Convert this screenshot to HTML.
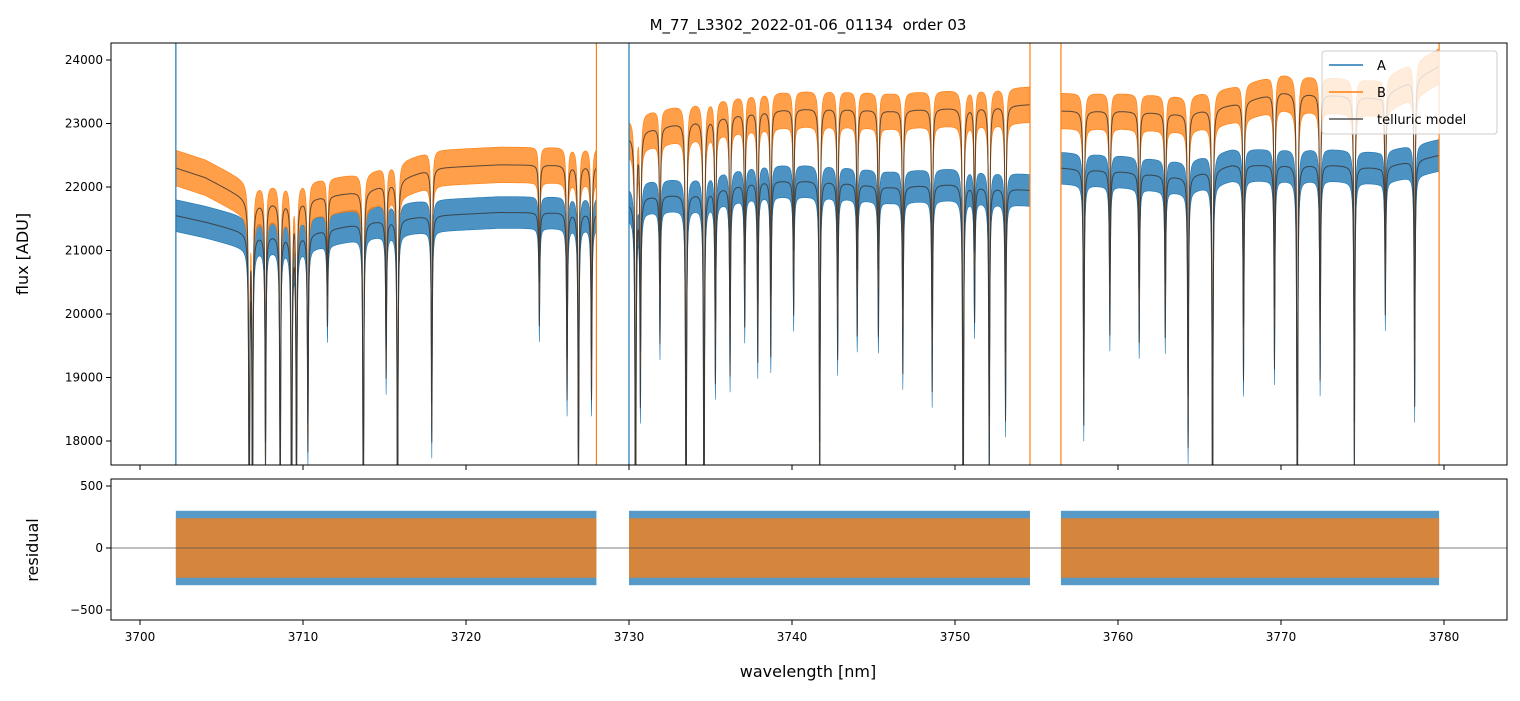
<!DOCTYPE html>
<html><head><meta charset="utf-8"><style>
body{margin:0;background:#fff;font-family:"Liberation Sans",sans-serif}
svg text{font-family:"DejaVu Sans","Liberation Sans",sans-serif}
</style></head><body>
<svg id="chart" width="1520" height="696" xmlns="http://www.w3.org/2000/svg">
<defs>
<clipPath id="c1"><rect x="111" y="43" width="1396" height="422"/></clipPath>
<clipPath id="c2"><rect x="111" y="479" width="1396" height="141"/></clipPath>
</defs>
<text x="808" y="30" text-anchor="middle" font-size="15" style="white-space:pre">M_77_L3302_2022-01-06_01134  order 03</text>
<g id="topg" clip-path="url(#c1)"></g>
<g id="botg" clip-path="url(#c2)"></g>
<g id="axes"></g>
<rect x="111" y="43" width="1396" height="422" fill="none" stroke="#000" stroke-width="1"/>
<rect x="111" y="479" width="1396" height="141" fill="none" stroke="#000" stroke-width="1"/>
<text x="808" y="677" text-anchor="middle" font-size="16">wavelength [nm]</text>
<text transform="translate(28,254) rotate(-90)" text-anchor="middle" font-size="16">flux [ADU]</text>
<text transform="translate(38,550) rotate(-90)" text-anchor="middle" font-size="16">residual</text>
<g>
<rect x="1322" y="51" width="175" height="83" rx="3" fill="#fff" fill-opacity="0.8" stroke="#ccc"/>
<line x1="1329" y1="65" x2="1363" y2="65" stroke="#1f77b4" stroke-width="1.5"/>
<text x="1377" y="70" font-size="13">A</text>
<line x1="1329" y1="92" x2="1363" y2="92" stroke="#ff7f0e" stroke-width="1.5"/>
<text x="1377" y="97" font-size="13">B</text>
<line x1="1329" y1="119" x2="1363" y2="119" stroke="#555" stroke-width="1.5"/>
<text x="1377" y="124" font-size="13">telluric model</text>
</g>
</svg>
<script>
const segments=[[3702.2,3728.0],[3730.0,3754.6],[3756.5,3779.7]];
const contWl=[3702.2,3704,3707,3710,3714,3718,3722,3728,3730,3731,3734,3738,3742,3746,3750,3754.6,3756.5,3760,3764,3767,3770,3773,3776,3779.7];
const contB=[22300,22150,21750,21800,21950,22300,22350,22350,22800,22900,23050,23200,23250,23200,23250,23300,23200,23200,23150,23300,23500,23450,23400,23900];
const contA=[21550,21450,21250,21250,21450,21550,21600,21600,21750,21850,21900,22100,22100,22000,22050,21950,22300,22250,22150,22350,22350,22350,22300,22500];
const lineWl=[3706.7,3706.9,3707.7,3708.6,3709.3,3709.6,3710.3,3711.5,3713.7,3715.1,3715.8,3717.9,3724.5,3726.2,3726.9,3727.7,
3730.4,3730.7,3731.9,3733.5,3734.6,3735.3,3736.2,3737.1,3737.9,3738.7,3740.1,3741.7,3742.8,3744.0,3745.3,3746.8,3748.6,3750.5,3751.2,3752.1,3753.1,
3757.9,3759.5,3761.3,3762.9,3764.3,3765.8,3767.7,3769.6,3771.0,3772.4,3774.5,3776.4,3778.2];
const lineMinB=[16500,17000,18000,17000,16000,17500,18300,20300,16500,19500,16500,18600,20500,19300,17700,19300,
16000,19500,20500,16500,16500,19900,20000,20800,20200,20300,21000,18000,20300,20700,20700,20100,19800,16500,21000,18400,19400,
19000,20500,20400,20500,18700,17000,19800,20100,16500,19900,18300,21000,19600];
const yTicks=[18000,19000,20000,21000,22000,23000,24000];
const rTicks=[-500,0,500];
const xTicks=[3700,3710,3720,3730,3740,3750,3760,3770,3780];
const noiseA=250, noiseB=280, resA=300, resB=240;

const X=w=>140+(w-3700)*16.3;
const Y=f=>441-(f-18000)*0.0635;
const R=r=>548-r*0.124;
const NS="http://www.w3.org/2000/svg";
function mk(tag,attrs,parent){const e=document.createElementNS(NS,tag);for(const k in attrs)e.setAttribute(k,attrs[k]);parent.appendChild(e);return e;}
function interp(w,ys){for(let i=0;i<contWl.length-1;i++){if(w<=contWl[i+1]){const t=(w-contWl[i])/(contWl[i+1]-contWl[i]);return ys[i]+t*(ys[i+1]-ys[i]);}}return ys[ys.length-1];}
function trans(w){let t=1;const g=0.035;for(let i=0;i<lineWl.length;i++){const cb=interp(lineWl[i],contB);const d=Math.min(0.99,1-lineMinB[i]/cb);const dx=(w-lineWl[i])/g;t*=1-d/(1+dx*dx);}return t;}
const topG=document.getElementById('topg'),botG=document.getElementById('botg'),axesG=document.getElementById('axes');

function band(cont,noise,color,op,name){
  segments.forEach(([a,b],si)=>{
    const up=[],lo=[];
    for(let w=a;w<=b;w+=0.01){const m=interp(w,cont)*trans(w);up.push(X(w).toFixed(1)+','+Y(m+noise).toFixed(1));lo.push(X(w).toFixed(1)+','+Y(m-noise).toFixed(1));}
    const p=mk('polygon',{points:up.concat(lo.reverse()).join(' '),fill:color,'fill-opacity':op,stroke:color,'stroke-width':0.6},topG);
    
    
  });
}
band(contA,noiseA,'#1f77b4',0.8,'spectrum-a');
band(contB,noiseB,'#ff7f0e',0.75,'spectrum-b');
[contB,contA].forEach((cont,ci)=>{
  segments.forEach(([a,b],si)=>{
    const pts=[];for(let w=a;w<=b;w+=0.01){pts.push(X(w).toFixed(1)+','+Y(interp(w,cont)*trans(w)).toFixed(1));}
    const l=mk('polyline',{points:pts.join(' '),fill:'none',stroke:'#333','stroke-opacity':0.8,'stroke-width':1},topG);
    
    
  });
});
[[3702.2,'#1f77b4'],[3728.0,'#ff7f0e'],[3730.0,'#1f77b4'],[3754.6,'#ff7f0e'],[3756.5,'#ff7f0e'],[3779.7,'#ff7f0e']].forEach(([w,c])=>{
  const l=mk('line',{x1:X(w),x2:X(w),y1:43,y2:465,stroke:c,'stroke-width':1.2},topG);
  
  
});
[[resA,'#1f77b4',0.75,'residual-a'],[resB,'#ff7f0e',0.75,'residual-b']].forEach(([n,c,op,name])=>{
  segments.forEach(([a,b],si)=>{
    const r=mk('rect',{x:X(a),y:R(n),width:X(b)-X(a),height:R(-n)-R(n),fill:c,'fill-opacity':op},botG);
    
    
  });
});
const z=mk('line',{x1:111,x2:1507,y1:R(0),y2:R(0),stroke:'#555','stroke-width':0.8},botG);


xTicks.forEach(t=>{
  mk('line',{x1:X(t),x2:X(t),y1:465,y2:470,stroke:'#000'},axesG);
  mk('line',{x1:X(t),x2:X(t),y1:620,y2:625,stroke:'#000'},axesG);
  const tx=mk('text',{x:X(t),y:641,'text-anchor':'middle','font-size':12},axesG);tx.textContent=t;
  
  
});
yTicks.forEach(t=>{
  mk('line',{x1:106,x2:111,y1:Y(t),y2:Y(t),stroke:'#000'},axesG);
  const tx=mk('text',{x:103,y:Y(t)+4,'text-anchor':'end','font-size':12},axesG);tx.textContent=t;
  
  
});
rTicks.forEach(t=>{
  mk('line',{x1:106,x2:111,y1:R(t),y2:R(t),stroke:'#000'},axesG);
  const tx=mk('text',{x:103,y:R(t)+4,'text-anchor':'end','font-size':12},axesG);tx.textContent=(t<0?'\u2212'+(-t):t);
  
  
});
</script>
</body></html>
